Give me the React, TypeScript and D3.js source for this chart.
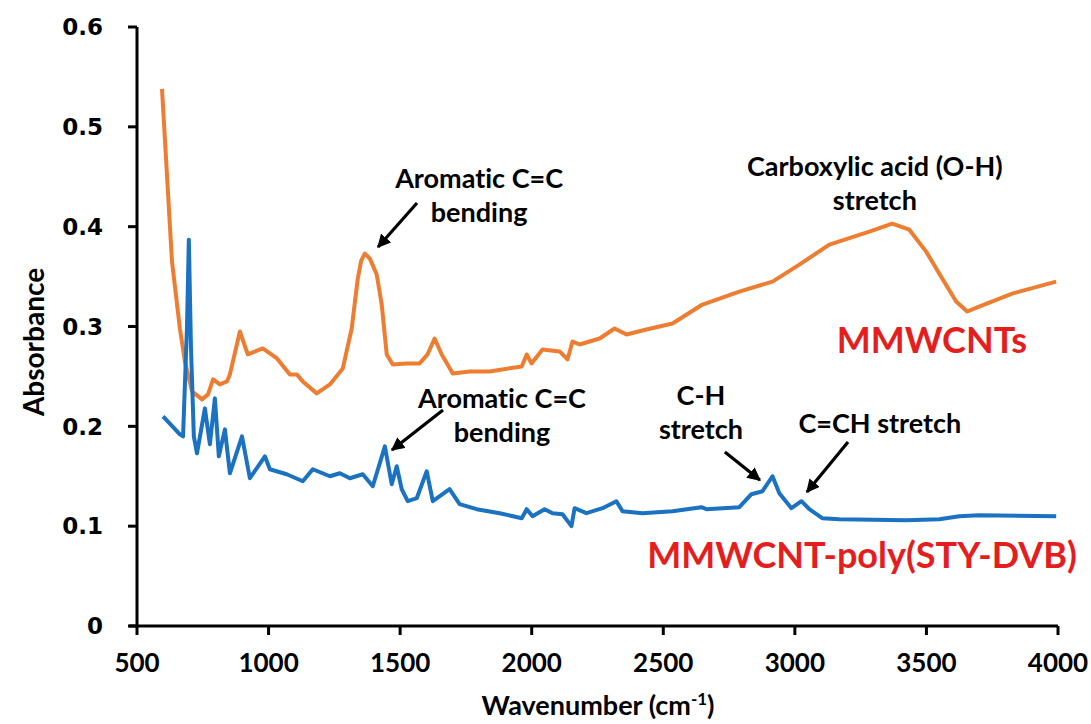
import React from "react";
import * as d3 from "d3";

// MMWCNTs (orange) – wavenumber (cm-1) and absorbance
const orangeWave = [595, 633, 663, 682, 709, 747, 770, 789, 815, 842, 853, 891, 921, 978, 1032, 1081, 1107, 1130, 1183, 1233, 1282, 1316, 1339, 1352, 1366, 1385, 1411, 1430, 1449, 1472, 1525, 1574, 1604, 1631, 1658, 1700, 1764, 1840, 1962, 1981, 1999, 2041, 2106, 2136, 2155, 2182, 2258, 2315, 2360, 2436, 2535, 2649, 2789, 2915, 3017, 3131, 3283, 3370, 3435, 3499, 3560, 3613, 3655, 3700, 3826, 3993];
const orangeAbs = [0.538, 0.365, 0.298, 0.265, 0.235, 0.227, 0.232, 0.247, 0.242, 0.245, 0.252, 0.295, 0.272, 0.278, 0.268, 0.252, 0.252, 0.245, 0.233, 0.242, 0.258, 0.298, 0.348, 0.366, 0.373, 0.368, 0.352, 0.322, 0.272, 0.262, 0.263, 0.263, 0.272, 0.288, 0.272, 0.253, 0.255, 0.255, 0.26, 0.272, 0.263, 0.277, 0.275, 0.267, 0.285, 0.282, 0.288, 0.298, 0.292, 0.297, 0.303, 0.322, 0.335, 0.345, 0.362, 0.382, 0.395, 0.403, 0.397, 0.375, 0.348, 0.325, 0.315, 0.32, 0.333, 0.345];

// MMWCNT-poly(STY-DVB) (blue)
const blueWave = [599, 663, 675, 690, 697, 705, 716, 728, 758, 777, 796, 811, 834, 853, 899, 929, 986, 1005, 1069, 1130, 1168, 1233, 1271, 1309, 1358, 1396, 1442, 1468, 1487, 1506, 1529, 1563, 1601, 1624, 1688, 1726, 1791, 1878, 1962, 1981, 2003, 2049, 2079, 2117, 2151, 2163, 2208, 2269, 2322, 2345, 2421, 2535, 2645, 2664, 2789, 2835, 2877, 2915, 2941, 2987, 3025, 3055, 3104, 3169, 3423, 3549, 3625, 3700, 3993];
const blueAbs = [0.21, 0.192, 0.19, 0.3, 0.387, 0.28, 0.19, 0.173, 0.218, 0.182, 0.228, 0.17, 0.197, 0.153, 0.19, 0.148, 0.17, 0.157, 0.152, 0.145, 0.157, 0.15, 0.153, 0.148, 0.152, 0.14, 0.18, 0.142, 0.16, 0.137, 0.125, 0.128, 0.155, 0.125, 0.137, 0.122, 0.117, 0.113, 0.108, 0.117, 0.11, 0.117, 0.113, 0.112, 0.1, 0.118, 0.113, 0.118, 0.125, 0.115, 0.113, 0.115, 0.119, 0.117, 0.119, 0.132, 0.135, 0.15, 0.133, 0.118, 0.125, 0.117, 0.108, 0.107, 0.106, 0.107, 0.11, 0.111, 0.11];

const xTicks = [500, 1000, 1500, 2000, 2500, 3000, 3500, 4000];
const yTicks = [0, 0.1, 0.2, 0.3, 0.4, 0.5, 0.6];

const seriesNames = ["MMWCNTs", "MMWCNT-poly(STY-DVB)"];
const seriesLabelPos = [
  [3521, 0.2735],
  [3255, 0.0581],
];

// annotation text lines, centre of first baseline (wavenumber, absorbance), arrow tail/head in data units
const annoLines = [
  ["Aromatic C=C", "bending"],
  ["Carboxylic acid (O-H)", "stretch"],
  ["Aromatic C=C", "bending"],
  ["C-H", "stretch"],
  ["C=CH stretch"],
];
const annoPos = [
  [1800, 0.4387],
  [3304, 0.4508],
  [1887, 0.2184],
  [2643, 0.2214],
  [3323, 0.1933],
];
const arrowFrom = [[1564, 0.4237], null, [1663, 0.2164], [2734, 0.1743], [3202, 0.1843]];
const arrowTo = [[1416, 0.3796], null, [1469, 0.1763], [2867, 0.1462], [3046, 0.1342]];

const W = 1091;
const H = 724;

export default function App() {
  const x = d3.scaleLinear().domain([500, 4000]).range([137, 1058]);
  const y = d3.scaleLinear().domain([0, 0.6]).range([626, 27]);

  const orange = orangeWave.map((w, i) => [w, orangeAbs[i]] as [number, number]);
  const blue = blueWave.map((w, i) => [w, blueAbs[i]] as [number, number]);
  const line = d3
    .line<[number, number]>()
    .x((d) => x(d[0]))
    .y((d) => y(d[1]))
    .curve(d3.curveLinear);

  const sans = "Lato, 'Open Sans', sans-serif";
  const noLig = { fontVariantLigatures: "none", fontFeatureSettings: "'liga' 0, 'clig' 0" } as React.CSSProperties;

  return (
    <div style={{ position: "absolute", left: 0, top: 0 }}>
      <svg width={W} height={H} style={{ display: "block", background: "#fff" }}>
        <defs>
          <marker id="ah" viewBox="0 0 10 10" refX="9" refY="5" markerWidth="4.2" markerHeight="4.2" orient="auto" markerUnits="strokeWidth">
            <path d="M0,0 L10,5 L0,10 z" fill="#000" />
          </marker>
        </defs>

        {/* curves */}
        <path d={line(orange) || ""} fill="none" stroke="#ED7D31" strokeWidth={4} strokeLinejoin="round" />
        <path d={line(blue) || ""} fill="none" stroke="#1B72C0" strokeWidth={4} strokeLinejoin="round" />

        {/* axes */}
        <line x1={x(500)} x2={x(500)} y1={y(0.6)} y2={y(0)} stroke="#000" strokeWidth={3} />
        <line x1={x(500) - 8} x2={x(4000)} y1={y(0)} y2={y(0)} stroke="#000" strokeWidth={3} />
        {yTicks.map((t) => (
          <g key={"y" + t}>
            <line x1={x(500) - 9} x2={x(500)} y1={y(t)} y2={y(t)} stroke="#000" strokeWidth={3} />
            <text x={103} y={y(t)} dy="0.36em" textAnchor="end" fontFamily="'DejaVu Sans', Verdana, sans-serif" fontWeight="bold" fontSize={23} fill="#000">
              {t === 0 ? "0" : t.toFixed(1)}
            </text>
          </g>
        ))}
        {xTicks.map((t) => (
          <g key={"x" + t}>
            <line x1={x(t)} x2={x(t)} y1={y(0)} y2={y(0) + 9} stroke="#000" strokeWidth={3} />
            <text x={x(t)} y={672} textAnchor="middle" fontFamily={sans} fontWeight="bold" fontSize={26} fill="#000">
              {t}
            </text>
          </g>
        ))}

        {/* axis titles */}
        <text transform="translate(44,342) rotate(-90)" textAnchor="middle" fontFamily={sans} fontWeight="bold" fontSize={28} fill="#000">
          Absorbance
        </text>
        <text x={598} y={715} textAnchor="middle" fontFamily={sans} fontWeight="bold" fontSize={27} fill="#000">
          Wavenumber (cm
          <tspan dy={-10} fontSize={17}>-1</tspan>
          <tspan dy={10}>)</tspan>
        </text>

        {/* annotations */}
        {annoLines.map((lines, i) => {
          const f = arrowFrom[i];
          const t = arrowTo[i];
          return (
            <g key={"a" + i}>
              {lines.map((l, j) => (
                <text key={j} x={x(annoPos[i][0])} y={y(annoPos[i][1]) + j * 34} textAnchor="middle" fontFamily={sans} fontWeight="bold" fontSize={27} fill="#000" style={noLig}>
                  {l}
                </text>
              ))}
              {f && t && (
                <line x1={x(f[0])} y1={y(f[1])} x2={x(t[0])} y2={y(t[1])} stroke="#000" strokeWidth={3.2} markerEnd="url(#ah)" />
              )}
            </g>
          );
        })}

        {/* series labels */}
        {seriesNames.map((n, i) => (
          <text key={n} x={x(seriesLabelPos[i][0])} y={y(seriesLabelPos[i][1])} textAnchor="middle" fontFamily={sans} fontWeight="bold" fontSize={36} fill="#E41E1E">
            {n}
          </text>
        ))}
      </svg>
    </div>
  );
}
